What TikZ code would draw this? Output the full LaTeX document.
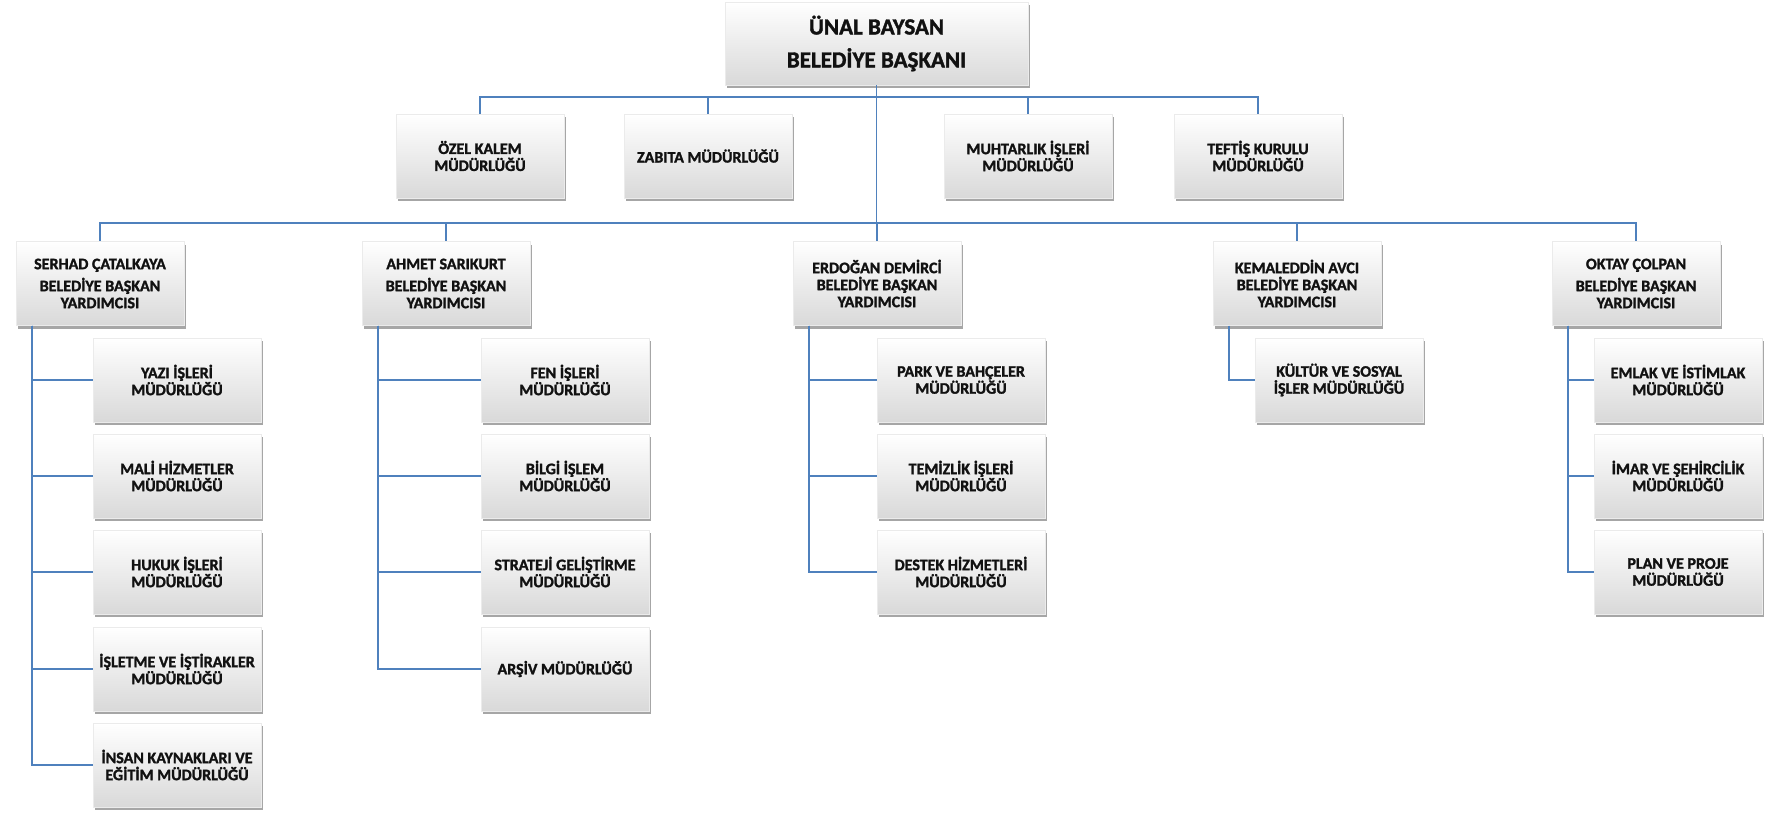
\documentclass[tikz,border=0pt]{standalone}
\usepackage{fontspec}
\setmainfont{Carlito}[BoldFont={Carlito Bold}, BoldFeatures={FakeBold=1.6}]
\usetikzlibrary{shadows}
\definecolor{OrgBlue}{HTML}{4F81BD}
\definecolor{OrgText}{HTML}{111111}

\begin{document}
\begin{tikzpicture}[x=1pt, y=-1pt,
	unit/.style={shade, top color=white, bottom color=black!15, draw=black!8, line width=0.4pt,
		drop shadow={shadow xshift=2pt, shadow yshift=-3pt, fill=black, opacity=0.35},
		minimum width=168pt, minimum height=84pt, inner sep=2pt, align=center,
		text=OrgText, font=\bfseries\fontsize{16}{17}\selectfont},
	head/.style={unit, minimum width=303pt, minimum height=83pt, font=\bfseries\fontsize{23}{28}\selectfont},
	link/.style={draw=OrgBlue, line width=1.8pt}]
	\useasboundingbox (0,0) rectangle (1769,812);
	
	% baskan
	\node[head] (bas) at (876.5,43.5) {ÜNAL BAYSAN\\[5pt]BELEDİYE BAŞKANI};
	\coordinate (bus1) at (876.5,97);
	\coordinate (bus2) at (876.5,223);
	
	% baskana bagli birimler
	\node[unit] (ozel) at (480,156) {ÖZEL KALEM\\MÜDÜRLÜĞÜ};
	\node[unit] (zabita) at (708,156) {ZABITA MÜDÜRLÜĞÜ};
	\node[unit] (muhtar) at (1028,156) {MUHTARLIK İŞLERİ\\MÜDÜRLÜĞÜ};
	\node[unit] (teftis) at (1258,156) {TEFTİŞ KURULU\\MÜDÜRLÜĞÜ};
	
	% baskan yardimcilari
	\node[unit] (serhad) at (100,283.5) {SERHAD ÇATALKAYA\\[5pt]BELEDİYE BAŞKAN\\YARDIMCISI};
	\node[unit] (ahmet) at (446,283.5) {AHMET SARIKURT\\[5pt]BELEDİYE BAŞKAN\\YARDIMCISI};
	\node[unit] (erdogan) at (877,283.5) {ERDOĞAN DEMİRCİ\\BELEDİYE BAŞKAN\\YARDIMCISI};
	\node[unit] (kemal) at (1297,283.5) {KEMALEDDİN AVCI\\BELEDİYE BAŞKAN\\YARDIMCISI};
	\node[unit] (oktay) at (1636,283.5) {OKTAY ÇOLPAN\\[5pt]BELEDİYE BAŞKAN\\YARDIMCISI};
	
	% mudurlukler
	\node[unit] (yazi) at (177,380) {YAZI İŞLERİ\\MÜDÜRLÜĞÜ};
	\node[unit] (mali) at (177,476) {MALİ HİZMETLER\\MÜDÜRLÜĞÜ};
	\node[unit] (hukuk) at (177,572) {HUKUK İŞLERİ\\MÜDÜRLÜĞÜ};
	\node[unit] (isletme) at (177,669) {İŞLETME VE İŞTİRAKLER\\MÜDÜRLÜĞÜ};
	\node[unit] (insan) at (177,765) {İNSAN KAYNAKLARI VE\\EĞİTİM MÜDÜRLÜĞÜ};
	
	\node[unit] (fen) at (565,380) {FEN İŞLERİ\\MÜDÜRLÜĞÜ};
	\node[unit] (bilgi) at (565,476) {BİLGİ İŞLEM\\MÜDÜRLÜĞÜ};
	\node[unit] (strateji) at (565,572) {STRATEJİ GELİŞTİRME\\MÜDÜRLÜĞÜ};
	\node[unit] (arsiv) at (565,669) {ARŞİV MÜDÜRLÜĞÜ};
	
	\node[unit] (park) at (961,380) {PARK VE BAHÇELER\\MÜDÜRLÜĞÜ};
	\node[unit] (temizlik) at (961,476) {TEMİZLİK İŞLERİ\\MÜDÜRLÜĞÜ};
	\node[unit] (destek) at (961,572) {DESTEK HİZMETLERİ\\MÜDÜRLÜĞÜ};
	
	\node[unit] (kultur) at (1339,380) {KÜLTÜR VE SOSYAL\\İŞLER MÜDÜRLÜĞÜ};
	
	\node[unit] (emlak) at (1678,380) {EMLAK VE İSTİMLAK\\MÜDÜRLÜĞÜ};
	\node[unit] (imar) at (1678,476) {İMAR VE ŞEHİRCİLİK\\MÜDÜRLÜĞÜ};
	\node[unit] (plan) at (1678,572) {PLAN VE PROJE\\MÜDÜRLÜĞÜ};
	
	% baglantilar
	\draw[link] (bas.south) -- (bus2);
	\foreach \n in {ozel,zabita,muhtar,teftis}
		\draw[link] (bus1) -| (\n.north);
	\foreach \n in {serhad,ahmet,erdogan,kemal,oktay}
		\draw[link] (bus2) -| (\n.north);
	\foreach \p/\c in {serhad/yazi,serhad/mali,serhad/hukuk,serhad/isletme,serhad/insan,
		ahmet/fen,ahmet/bilgi,ahmet/strateji,ahmet/arsiv,
		erdogan/park,erdogan/temizlik,erdogan/destek,
		kemal/kultur,
		oktay/emlak,oktay/imar,oktay/plan}
		\draw[link] ([xshift=16.5pt]\p.south west) |- (\c.west);
\end{tikzpicture}
\end{document}
